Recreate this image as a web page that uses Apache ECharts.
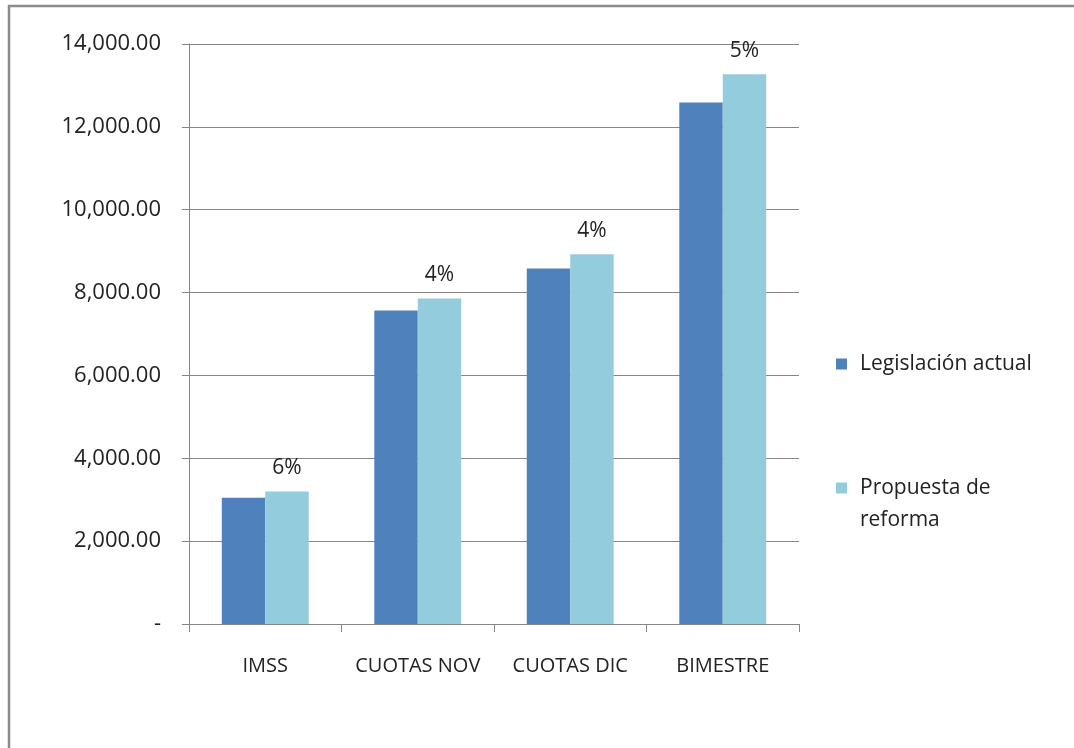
<!DOCTYPE html>
<html>
<head>
<meta charset="utf-8">
<script src="https://cdn.jsdelivr.net/npm/echarts@6/dist/echarts.min.js"></script>
<style>
  html, body { margin: 0; padding: 0; background: #fff; }
  #chart { width: 1074px; height: 748px; }
</style>
</head>
<body>
<div id="chart"></div>
<script>
const categories = ['IMSS', 'CUOTAS NOV', 'CUOTAS DIC', 'BIMESTRE'];
const legislacionActual = [3045, 7565, 8580, 12590];
const propuestaReforma = [3200, 7855, 8925, 13270];
const increaseLabels = ['6%', '4%', '4%', '5%'];
const seriesNames = ['Legislación actual', 'Propuesta de reforma'];

const font = '"Open Sans", "Liberation Sans", sans-serif';
const textColor = '#222';
const fontSize = 22;

const chart = echarts.init(document.getElementById('chart'), null, { renderer: 'canvas' });

const fmt = v => v === 0 ? '-' : v.toLocaleString('en-US', { minimumFractionDigits: 2, maximumFractionDigits: 2 });

chart.setOption({
  animation: false,
  backgroundColor: '#fff',
  textStyle: { fontFamily: font },
  graphic: [{
    type: 'rect',
    shape: { x: 9, y: 6, width: 1200, height: 900 },
    style: { fill: 'none', stroke: '#8c8c8c', lineWidth: 2.5 },
    silent: true
  }],
  grid: { left: 189, top: 44, right: 275, bottom: 124 },
  legend: [
    {
      data: [seriesNames[0]],
      orient: 'vertical',
      left: 836, top: 348,
      padding: 0,
      icon: 'rect', itemWidth: 11, itemHeight: 11,
      textStyle: { fontFamily: font, fontSize: fontSize - 1, color: textColor, lineHeight: 32, padding: [0, 0, 0, 8] }
    },
    {
      data: [seriesNames[1]],
      orient: 'vertical',
      left: 836, top: 440,
      padding: 0,
      icon: 'rect', itemWidth: 11, itemHeight: 11,
      formatter: () => '\u00a0\nPropuesta de\nreforma',
      textStyle: { fontFamily: font, fontSize: fontSize - 1, color: textColor, lineHeight: 32, padding: [0, 0, 0, 8] }
    }
  ],
  xAxis: {
    type: 'category',
    data: categories,
    axisLine: { lineStyle: { color: '#868686', width: 1 } },
    axisTick: { show: true, interval: 0, length: 8, lineStyle: { color: '#868686' } },
    axisLabel: { interval: 0, color: textColor, fontFamily: font, fontSize: fontSize - 2, margin: 32 }
  },
  yAxis: {
    type: 'value',
    min: 0, max: 14000, interval: 2000,
    axisLine: { show: true, lineStyle: { color: '#868686', width: 1 } },
    axisTick: { show: true, length: 7, lineStyle: { color: '#868686' } },
    splitLine: { lineStyle: { color: '#868686', width: 1 } },
    axisLabel: { color: textColor, fontFamily: font, fontSize: fontSize, margin: 28, formatter: fmt }
  },
  series: [
    {
      name: seriesNames[0],
      type: 'bar',
      data: legislacionActual,
      barGap: '0%',
      barCategoryGap: '43%',
      itemStyle: { color: '#4f81bd' }
    },
    {
      name: seriesNames[1],
      type: 'bar',
      data: propuestaReforma,
      barGap: '0%',
      barCategoryGap: '43%',
      itemStyle: { color: '#93cddd' },
      label: {
        show: true,
        position: 'top',
        distance: 13,
        color: textColor,
        fontFamily: font,
        fontSize: fontSize - 1,
        formatter: p => increaseLabels[p.dataIndex]
      }
    }
  ]
});
</script>
</body>
</html>
